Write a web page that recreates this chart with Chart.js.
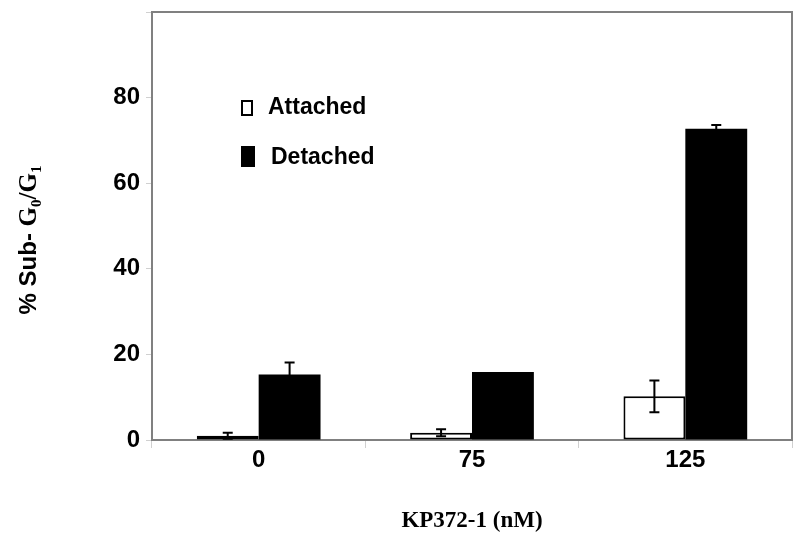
<!DOCTYPE html>
<html>
<head>
<meta charset="utf-8">
<script src="https://cdn.jsdelivr.net/npm/chart.js@4.4.0/dist/chart.umd.min.js"></script>
<style>
  html, body { margin: 0; padding: 0; background: #ffffff; }
  #wrap { width: 800px; height: 538px; position: relative; }
</style>
</head>
<body>
<div id="wrap"><canvas id="c" width="800" height="538"></canvas></div>
<script>
// ---- data ----
const categories = ['0', '75', '125'];
const attachedValues = [1.0, 1.7, 10.2];
const attachedErrors = [0.7, 0.8, 3.7];
const detachedValues = [15.3, 15.9, 72.7];
const detachedErrors = [2.8, 0, 0.9];
const yTickLabels = ['0', '20', '40', '60', '80'];
const seriesNames = ['Attached', 'Detached'];
const xTitle = 'KP372-1 (nM)';

const SANS = '"Liberation Sans", Arial, sans-serif';
const SERIF = '"Liberation Serif", "Times New Roman", serif';

// error bars
const errorBarPlugin = {
  id: 'errorBars',
  afterDatasetsDraw(chart) {
    const ctx = chart.ctx;
    const yScale = chart.scales.y;
    chart.data.datasets.forEach((ds, di) => {
      const meta = chart.getDatasetMeta(di);
      const errs = ds.errors || [];
      meta.data.forEach((bar, i) => {
        const e = errs[i];
        if (!e) return;
        const v = ds.data[i];
        const x = bar.x;
        const yTop = yScale.getPixelForValue(v + e);
        const yBot = yScale.getPixelForValue(Math.max(0, v - e));
        ctx.save();
        ctx.strokeStyle = '#000';
        ctx.lineWidth = 2;
        ctx.beginPath();
        ctx.moveTo(x, yTop); ctx.lineTo(x, yBot);
        ctx.moveTo(x - 5, yTop); ctx.lineTo(x + 5, yTop);
        ctx.moveTo(x - 5, yBot); ctx.lineTo(x + 5, yBot);
        ctx.stroke();
        ctx.restore();
      });
    });
  }
};

// frame (top/right borders) + y title + legend
const decorPlugin = {
  id: 'decor',
  afterDraw(chart) {
    const ctx = chart.ctx;
    const a = chart.chartArea;
    ctx.save();
    ctx.strokeStyle = '#808080';
    ctx.lineWidth = 2;
    ctx.beginPath();
    ctx.moveTo(a.left, a.top); ctx.lineTo(a.right, a.top); ctx.lineTo(a.right, a.bottom);
    ctx.stroke();
    ctx.restore();

    // legend
    ctx.save();
    ctx.fillStyle = '#fff';
    ctx.strokeStyle = '#000';
    ctx.lineWidth = 2;
    ctx.fillRect(242, 101, 10, 14);
    ctx.strokeRect(242, 101, 10, 14);
    ctx.fillStyle = '#000';
    ctx.fillRect(241, 146, 14, 21);
    ctx.font = 'bold 23px ' + SANS;
    ctx.textBaseline = 'middle';
    ctx.textAlign = 'left';
    ctx.fillText(seriesNames[0], 268, 108);
    ctx.fillText(seriesNames[1], 271, 158);
    ctx.restore();

    // y title: "% Sub- G0/G1"
    ctx.save();
    ctx.translate(36, 240);
    ctx.rotate(-Math.PI / 2);
    ctx.fillStyle = '#000';
    ctx.textBaseline = 'alphabetic';
    ctx.textAlign = 'left';
    const parts = [
      { t: '% Sub- ', f: 'bold 24px ' + SANS, dy: 0 },
      { t: 'G', f: 'bold 25px ' + SERIF, dy: 0 },
      { t: '0', f: 'bold 15px ' + SERIF, dy: 5 },
      { t: '/', f: 'bold 25px ' + SERIF, dy: 0 },
      { t: 'G', f: 'bold 25px ' + SERIF, dy: 0 },
      { t: '1', f: 'bold 15px ' + SERIF, dy: 5 }
    ];
    let total = 0;
    parts.forEach(p => { ctx.font = p.f; p.w = ctx.measureText(p.t).width; total += p.w; });
    let x = -total / 2;
    parts.forEach(p => { ctx.font = p.f; ctx.fillText(p.t, x, p.dy); x += p.w; });
    ctx.restore();
  }
};

new Chart(document.getElementById('c'), {
  type: 'bar',
  data: {
    labels: categories,
    datasets: [
      {
        label: seriesNames[0],
        data: attachedValues,
        errors: attachedErrors,
        backgroundColor: '#ffffff',
        borderColor: '#000000',
        borderWidth: 2,
        borderSkipped: false
      },
      {
        label: seriesNames[1],
        data: detachedValues,
        errors: detachedErrors,
        backgroundColor: '#000000',
        borderColor: '#000000',
        borderWidth: 0
      }
    ]
  },
  options: {
    responsive: false,
    animation: false,
    devicePixelRatio: 1,
    categoryPercentage: 0.58,
    barPercentage: 1.0,
    layout: { padding: { top: 12, right: 8, left: 0, bottom: 0 } },
    plugins: {
      legend: { display: false },
      tooltip: { enabled: false },
      title: { display: false }
    },
    scales: {
      x: {
        grid: {
          offset: true,
          drawOnChartArea: false,
          drawTicks: true,
          tickLength: 8,
          color: '#d0d0d0'
        },
        border: { display: true, color: '#808080', width: 2 },
        ticks: {
          color: '#000',
          font: { family: SANS, size: 24, weight: 'bold' },
          padding: -2
        },
        title: {
          display: true,
          text: xTitle,
          color: '#000',
          font: { family: SERIF, size: 23, weight: 'bold' },
          padding: { top: 14, bottom: 3 }
        },
        afterFit(scale) { scale.height = 98; scale.paddingLeft = 0; scale.paddingRight = 0; }
      },
      y: {
        min: 0,
        max: 100,
        grid: {
          drawOnChartArea: false,
          drawTicks: true,
          tickLength: 6,
          color: '#d0d0d0'
        },
        border: { display: true, color: '#808080', width: 2 },
        ticks: {
          stepSize: 20,
          color: '#000',
          font: { family: SANS, size: 24, weight: 'bold' },
          padding: 6,
          callback(value) {
            const s = String(value);
            return yTickLabels.includes(s) ? s : '';
          }
        },
        afterFit(scale) { scale.width = 152; scale.paddingTop = 0; scale.paddingBottom = 0; }
      }
    }
  },
  plugins: [errorBarPlugin, decorPlugin]
});
</script>
</body>
</html>
